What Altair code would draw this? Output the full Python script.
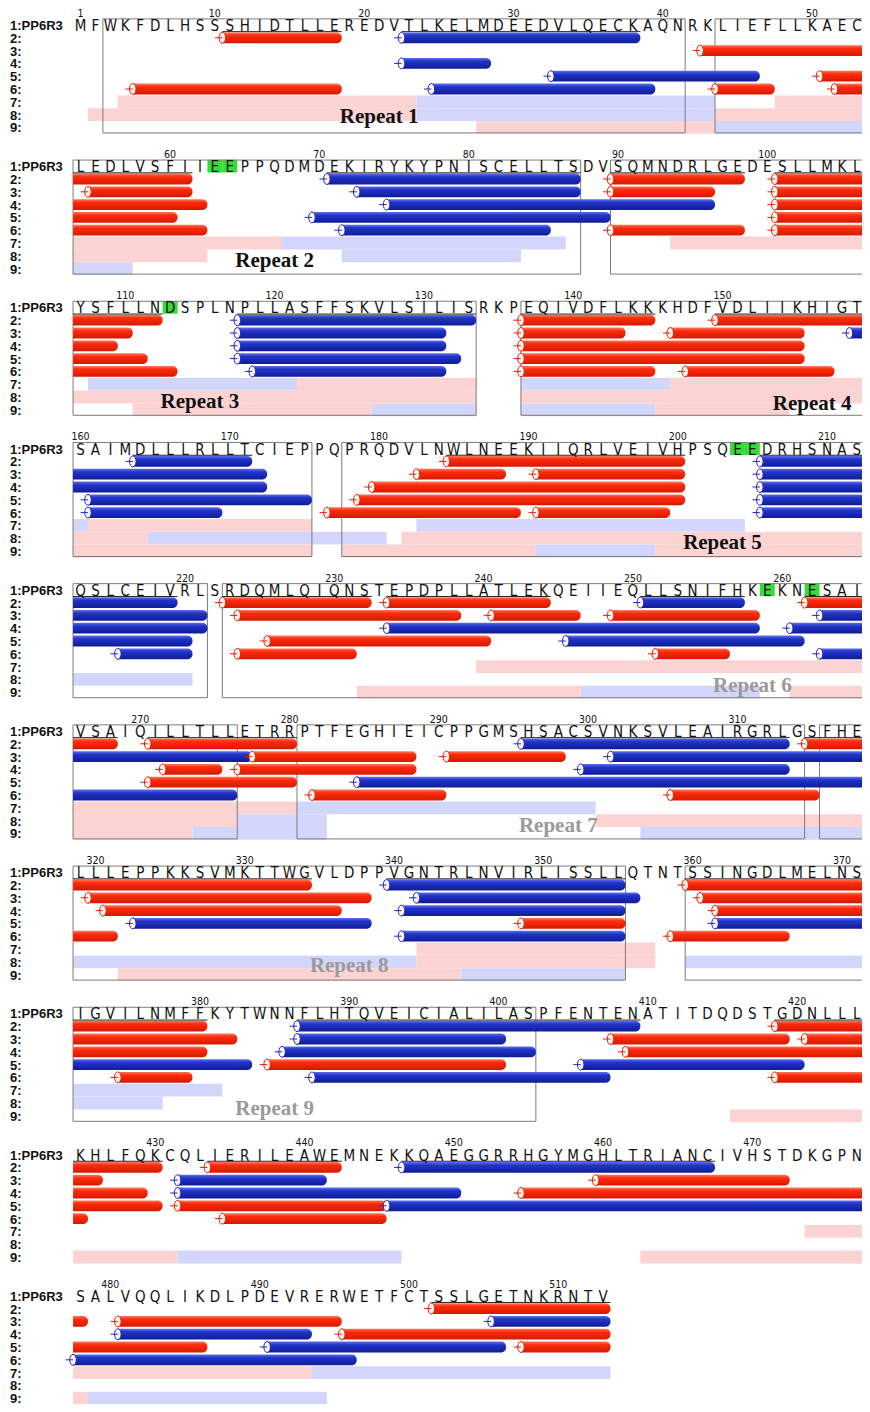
import altair as alt
import pandas as pd

# ---------------- data ----------------
SEQUENCE = (
    "MFWKFDLHSSSHIDTLLEREDVTLKELMDEEDVLQECKAQNRKLIEFLLKAEC"
    "LEDLVSFIIEEPPQDMDEKIRYKYPNISCELLTSDVSQMNDRLGEDESLLMKL"
    "YSFLLNDSPLNPLLASFFSKVLSILISRKPEQIVDFLKKKHDFVDLIIKHIGT"
    "SAIMDLLLRLLTCIEPPQPRQDVLNWLNEEKIIQRLVEIVHPSQEEDRHSNAS"
    "QSLCEIVRLSRDQMLQIQNSTEPDPLLATLEKQEIIEQLLSNIFHKEKNESAI"
    "VSAIQILLTLLETRRPTFEGHIEICPPGMSHSACSVNKSVLEAIRGRLGSFHE"
    "LLLEPPKKSVMKTTWGVLDPPVGNTRLNVIRLISSLLQTNTSSINGDLMELNS"
    "IGVILNMFFKYTWNNFLHTQVEICIALILASPFENTENATITDQDSTGDNLLL"
    "KHLFQKCQLIERILEAWEMNEKKQAEGGRRHGYMGHLTRIANCIVHSTDKGPN"
    "SALVQQLIKDLPDEVRERWETFCTSSLGETNKRNTV"
)
TRACK_LABELS = ["1:PP6R3", "2:", "3:", "4:", "5:", "6:", "7:", "8:", "9:"]
HIGHLIGHT = [63, 64, 113, 204, 205, 259, 262]

REPEAT_NAMES = ["Repeat 1", "Repeat 2", "Repeat 3", "Repeat 4", "Repeat 5",
                "Repeat 6", "Repeat 7", "Repeat 8", "Repeat 9"]
REPEAT_START = [3, 44, 90, 137, 178, 223, 281, 316, 360]
REPEAT_END = [41, 87, 133, 175, 221, 276, 314, 355, 402]
REPEAT_LABEL_RES = [21, 67, 115, 156, 203, 258, 298, 337, 385]
REPEAT_LABEL_TRACK = [8.15, 8.4, 8.4, 8.55, 8.4, 8.5, 8.4, 8.35, 8.5]
REPEAT_TONE = ["dark", "dark", "dark", "dark", "dark", "grey", "grey", "grey", "grey"]

# helices: (track, first residue, last residue, R/B, has start cap)
HELIX_B1 = [(2, 11, 18, "R", 1), (2, 23, 38, "B", 1), (3, 43, 53, "R", 1), (4, 23, 28, "B", 1),
            (5, 33, 46, "B", 1), (5, 51, 53, "R", 1), (6, 5, 18, "R", 1), (6, 25, 39, "B", 1),
            (6, 44, 47, "R", 1), (6, 52, 53, "R", 1)]
HELIX_B2 = [(2, 54, 61, "R", 0), (2, 71, 87, "B", 1), (2, 90, 98, "R", 1), (2, 101, 106, "R", 1),
            (3, 55, 61, "R", 1), (3, 73, 87, "B", 1), (3, 90, 96, "R", 1), (3, 101, 106, "R", 1),
            (4, 54, 62, "R", 0), (4, 75, 96, "B", 1), (4, 101, 106, "R", 1),
            (5, 54, 60, "R", 0), (5, 70, 89, "B", 1), (5, 101, 106, "R", 1),
            (6, 54, 62, "R", 0), (6, 72, 85, "B", 1), (6, 90, 98, "R", 1), (6, 101, 106, "R", 1)]
HELIX_B3 = [(2, 107, 112, "R", 0), (2, 118, 133, "B", 1), (2, 137, 145, "R", 1), (2, 150, 159, "R", 1),
            (3, 107, 110, "R", 0), (3, 118, 131, "B", 1), (3, 137, 143, "R", 1), (3, 147, 155, "R", 1),
            (3, 159, 159, "B", 1),
            (4, 107, 109, "R", 0), (4, 118, 131, "B", 1), (4, 137, 155, "R", 1),
            (5, 107, 111, "R", 0), (5, 118, 132, "B", 1), (5, 137, 155, "R", 1),
            (6, 107, 113, "R", 0), (6, 119, 131, "B", 1), (6, 137, 145, "R", 1), (6, 148, 157, "R", 1)]
HELIX_B4 = [(2, 164, 171, "B", 1), (2, 185, 200, "R", 1), (2, 206, 212, "B", 1),
            (3, 160, 172, "B", 0), (3, 183, 188, "R", 1), (3, 191, 200, "R", 1), (3, 206, 212, "B", 1),
            (4, 160, 172, "B", 0), (4, 180, 200, "R", 1), (4, 206, 212, "B", 1),
            (5, 161, 175, "B", 1), (5, 179, 200, "R", 1), (5, 206, 212, "B", 1),
            (6, 161, 169, "B", 1), (6, 177, 189, "R", 1), (6, 191, 199, "R", 1), (6, 206, 212, "B", 1)]
HELIX_B5 = [(2, 213, 219, "B", 0), (2, 223, 232, "R", 1), (2, 234, 244, "R", 1), (2, 251, 257, "B", 1),
            (2, 262, 265, "R", 1),
            (3, 213, 221, "B", 0), (3, 224, 238, "R", 1), (3, 241, 246, "R", 1), (3, 249, 258, "R", 1),
            (3, 263, 265, "B", 1),
            (4, 213, 221, "B", 0), (4, 234, 258, "B", 1), (4, 261, 265, "B", 1),
            (5, 213, 220, "B", 0), (5, 226, 240, "R", 1), (5, 246, 261, "B", 1),
            (6, 216, 220, "B", 1), (6, 224, 231, "R", 1), (6, 252, 256, "R", 1), (6, 263, 265, "B", 1)]
HELIX_B6 = [(2, 266, 268, "R", 0), (2, 271, 280, "R", 1), (2, 296, 313, "B", 1), (2, 315, 318, "R", 1),
            (3, 266, 277, "B", 0), (3, 278, 288, "R", 1), (3, 291, 298, "R", 1), (3, 302, 318, "B", 1),
            (4, 272, 275, "R", 1), (4, 277, 288, "R", 1), (4, 300, 313, "B", 1),
            (5, 271, 280, "R", 1), (5, 285, 318, "B", 1),
            (6, 266, 276, "B", 0), (6, 282, 290, "R", 1), (6, 306, 315, "R", 1)]
HELIX_B7 = [(2, 319, 334, "R", 0), (2, 340, 355, "B", 1), (2, 360, 371, "R", 1),
            (3, 320, 338, "R", 1), (3, 342, 356, "B", 1), (3, 361, 371, "R", 1),
            (4, 321, 336, "R", 1), (4, 341, 355, "B", 1), (4, 362, 371, "R", 1),
            (5, 323, 338, "B", 1), (5, 349, 355, "R", 1), (5, 362, 371, "B", 1),
            (6, 319, 321, "R", 0), (6, 341, 355, "B", 1), (6, 359, 366, "R", 1)]
HELIX_B8 = [(2, 372, 380, "R", 0), (2, 387, 409, "B", 1), (2, 419, 424, "R", 1),
            (3, 372, 382, "R", 0), (3, 387, 400, "B", 1), (3, 408, 419, "R", 1), (3, 421, 424, "R", 1),
            (4, 372, 380, "R", 0), (4, 386, 402, "B", 1), (4, 409, 424, "R", 1),
            (5, 372, 383, "B", 0), (5, 385, 400, "R", 1), (5, 406, 420, "B", 1),
            (6, 375, 379, "R", 1), (6, 388, 407, "B", 1), (6, 419, 424, "R", 1)]
HELIX_B9 = [(2, 425, 430, "R", 0), (2, 434, 442, "R", 1), (2, 447, 467, "B", 1),
            (3, 425, 426, "R", 0), (3, 432, 441, "B", 1), (3, 460, 472, "R", 1),
            (4, 425, 429, "R", 0), (4, 432, 450, "B", 1), (4, 455, 477, "R", 1),
            (5, 425, 430, "R", 0), (5, 432, 445, "R", 1), (5, 446, 477, "B", 1),
            (6, 425, 425, "R", 0), (6, 435, 445, "R", 1)]
HELIX_B10 = [(2, 502, 513, "R", 1),
             (3, 478, 478, "R", 0), (3, 481, 495, "R", 1), (3, 506, 513, "B", 1),
             (4, 481, 493, "B", 1), (4, 496, 513, "R", 1),
             (5, 478, 486, "R", 0), (5, 491, 506, "B", 1), (5, 508, 513, "R", 1),
             (6, 478, 496, "B", 1)]

# light tracks: (track, first residue, last residue, P=pink / L=lilac)
LIGHT_B1 = [(7, 4, 23, "P"), (7, 24, 43, "L"), (7, 48, 53, "P"), (8, 2, 23, "P"), (8, 24, 43, "L"),
            (8, 44, 53, "P"), (9, 28, 43, "P"), (9, 44, 53, "L")]
LIGHT_B2 = [(7, 54, 67, "P"), (7, 68, 86, "L"), (7, 94, 106, "P"), (8, 54, 62, "P"), (8, 72, 83, "L"),
            (9, 54, 57, "L")]
LIGHT_B3 = [(7, 108, 121, "L"), (7, 122, 133, "P"), (7, 137, 146, "L"), (7, 147, 159, "P"),
            (8, 107, 133, "P"), (8, 137, 159, "P"), (9, 111, 126, "P"), (9, 127, 133, "L"),
            (9, 137, 145, "L"), (9, 146, 154, "P")]
LIGHT_B4 = [(7, 160, 160, "L"), (7, 161, 175, "P"), (7, 183, 204, "L"), (8, 160, 164, "P"),
            (8, 165, 180, "L"), (8, 182, 212, "P"), (9, 160, 175, "P"), (9, 178, 190, "P"),
            (9, 191, 198, "L"), (9, 199, 212, "P")]
LIGHT_B5 = [(7, 240, 265, "P"), (8, 213, 220, "L"), (9, 232, 246, "P"), (9, 247, 258, "L"),
            (9, 261, 265, "P")]
LIGHT_B6 = [(7, 266, 280, "P"), (7, 281, 300, "L"), (8, 266, 276, "P"), (8, 277, 282, "L"),
            (8, 301, 318, "P"), (9, 266, 273, "P"), (9, 274, 282, "L"), (9, 304, 318, "L")]
LIGHT_B7 = [(7, 342, 357, "P"), (8, 319, 341, "L"), (8, 342, 357, "P"), (8, 360, 371, "L"),
            (9, 322, 344, "P"), (9, 345, 355, "L")]
LIGHT_B8 = [(7, 372, 381, "L"), (8, 372, 377, "L"), (9, 416, 424, "P")]
LIGHT_B9 = [(7, 474, 477, "P"), (9, 425, 431, "P"), (9, 432, 446, "L"), (9, 463, 477, "P")]
LIGHT_B10 = [(7, 478, 493, "P"), (7, 494, 513, "L"), (9, 478, 478, "P"), (9, 479, 494, "L")]

HELIX_BLOCKS = [HELIX_B1, HELIX_B2, HELIX_B3, HELIX_B4, HELIX_B5,
                HELIX_B6, HELIX_B7, HELIX_B8, HELIX_B9, HELIX_B10]
LIGHT_BLOCKS = [LIGHT_B1, LIGHT_B2, LIGHT_B3, LIGHT_B4, LIGHT_B5,
                LIGHT_B6, LIGHT_B7, LIGHT_B8, LIGHT_B9, LIGHT_B10]

# ---------------- layout ----------------
NB = 53            # residues per line
W, H = 854, 1396
PX_RES = 14.93     # pixels per residue
PX_TRK = 12.8      # pixels per track
BLK = 141.2 / PX_TRK   # line pitch, in track units
HB = 0.42          # half height of helix bar
XD0 = -(80.5 - 8) / PX_RES
YD0 = 1 - (25 - 8) / PX_TRK
XS = alt.Scale(domain=[XD0, XD0 + W / PX_RES], nice=False, zero=False)
YS = alt.Scale(domain=[YD0, YD0 + H / PX_TRK], nice=False, zero=False, reverse=True)
LABEL_X = XD0 + 2 / PX_RES

SEQ_FONT = "Liberation Sans Narrow, DejaVu Sans Condensed, Liberation Sans, sans-serif"
SANS = "Liberation Sans, Arial, Helvetica, sans-serif"
SERIF = "Liberation Serif, Times New Roman, DejaVu Serif, serif"


def pieces(start, end):
    out, s = [], start
    while s <= end:
        b = (s - 1) // NB
        e = min(end, (b + 1) * NB)
        out.append((b, s, e, s == start, e == end))
        s = e + 1
    return out


def kpos(res, b):
    return res - 1 - b * NB


helix, caps, uline = [], [], []
for blk in HELIX_BLOCKS:
    for (t, s, e, typ, cap) in blk:
        for (b, ps, pe, first, last) in pieces(s, e):
            k0 = kpos(ps, b) - 0.5
            k1 = kpos(pe, b) + 0.5 if pe < (b + 1) * NB else NB + 1
            v = b * BLK + t
            helix.append(dict(x=k0, x2=k1, y=v - HB, y2=v + HB, kind=typ))
            if first and cap:
                caps.append(dict(x=k0, y=v, kind=typ))
            if t == 2:
                uline.append(dict(x=k0, x2=min(k1, NB), y=b * BLK + 1.52))

light = []
for blk in LIGHT_BLOCKS:
    for (t, s, e, tone) in blk:
        for (b, ps, pe, first, last) in pieces(s, e):
            k0 = kpos(ps, b) - 0.5
            k1 = kpos(pe, b) + 0.5 if pe < (b + 1) * NB else NB + 1
            v = b * BLK + t
            light.append(dict(x=k0, x2=k1, y=v - 0.5, y2=v + 0.5, tone=tone))

boxes = []
for s, e in zip(REPEAT_START, REPEAT_END):
    for (b, ps, pe, first, last) in pieces(s, e):
        k0 = kpos(ps, b) - 0.5
        k1 = kpos(pe, b) + 0.5 if last else NB + 1
        boxes.append(dict(x=k0, x2=k1, y=b * BLK + 0.52, y2=b * BLK + 9.43))

letters = []
for i, ch in enumerate(SEQUENCE):
    b = i // NB
    letters.append(dict(x=i % NB, y=b * BLK + 1, t=ch))

numbers = []
for res in [1] + list(range(10, len(SEQUENCE) + 1, 10)):
    b = (res - 1) // NB
    numbers.append(dict(x=kpos(res, b), y=b * BLK + 0.12, t=str(res)))

greens = []
for res in HIGHLIGHT:
    b = (res - 1) // NB
    k = kpos(res, b)
    greens.append(dict(x=k - 0.5, x2=k + 0.5, y=b * BLK + 0.5, y2=b * BLK + 1.5))

rowlab = []
nblocks = (len(SEQUENCE) - 1) // NB + 1
for b in range(nblocks):
    for t, lab in enumerate(TRACK_LABELS, start=1):
        rowlab.append(dict(x=LABEL_X, y=b * BLK + t, t=lab))

replab = []
for name, res, trk, tone in zip(REPEAT_NAMES, REPEAT_LABEL_RES, REPEAT_LABEL_TRACK, REPEAT_TONE):
    b = (res - 1) // NB
    replab.append(dict(x=kpos(res, b), y=b * BLK + trk, t=name, tone=tone))

# ---------------- chart ----------------
X = alt.X("x:Q", scale=XS, axis=None)
Y = alt.Y("y:Q", scale=YS, axis=None)
X2 = alt.X2("x2:Q")
Y2 = alt.Y2("y2:Q")

RED_FILL = {"gradient": "linear", "x1": 0, "y1": 0, "x2": 0, "y2": 1,
            "stops": [{"offset": 0, "color": "#ff7a5c"}, {"offset": 0.3, "color": "#ff2a0c"},
                      {"offset": 1, "color": "#d41a00"}]}
BLUE_FILL = {"gradient": "linear", "x1": 0, "y1": 0, "x2": 0, "y2": 1,
             "stops": [{"offset": 0, "color": "#5f6ff0"}, {"offset": 0.3, "color": "#2034c8"},
                       {"offset": 1, "color": "#101c96"}]}
CAP_PATH = ("M -1.35 0 L 0 0 M 0 -1 A 0.6 1 0 1 1 0 1 A 0.6 1 0 1 1 0 -1 Z")

df_light = pd.DataFrame(light)
df_helix = pd.DataFrame(helix)
df_caps = pd.DataFrame(caps)

l_light = alt.Chart(df_light).mark_rect(clip=True).encode(
    x=X, x2=X2, y=Y, y2=Y2,
    color=alt.Color("tone:N", scale=alt.Scale(domain=["P", "L"], range=["#fbd3d3", "#d3d6fb"]),
                    legend=None))
l_green = alt.Chart(pd.DataFrame(greens)).mark_rect(color="#38dc38").encode(x=X, x2=X2, y=Y, y2=Y2)
l_box = alt.Chart(pd.DataFrame(boxes)).mark_rect(
    clip=True, fillOpacity=0, stroke="#7c7c7c", strokeWidth=1).encode(x=X, x2=X2, y=Y, y2=Y2)
l_red = alt.Chart(df_helix[df_helix.kind == "R"]).mark_rect(
    clip=True, fill=RED_FILL, cornerRadiusTopRight=5, cornerRadiusBottomRight=5).encode(
    x=X, x2=X2, y=Y, y2=Y2)
l_blue = alt.Chart(df_helix[df_helix.kind == "B"]).mark_rect(
    clip=True, fill=BLUE_FILL, cornerRadiusTopRight=5, cornerRadiusBottomRight=5).encode(
    x=X, x2=X2, y=Y, y2=Y2)
l_caps = alt.Chart(df_caps).mark_point(
    shape=CAP_PATH, size=120, filled=True, fill="#fff4f2", fillOpacity=1, opacity=1,
    strokeWidth=1, clip=True).encode(
    x=X, y=Y,
    stroke=alt.Stroke("kind:N", scale=alt.Scale(domain=["R", "B"], range=["#e62000", "#1a2cc0"]),
                      legend=None))
l_uline = alt.Chart(pd.DataFrame(uline)).mark_rule(color="#222", strokeWidth=1, clip=True).encode(
    x=X, x2=X2, y=Y)
l_letters = alt.Chart(pd.DataFrame(letters)).mark_text(
    font=SEQ_FONT, fontSize=15, color="#111", baseline="middle", dy=1).encode(x=X, y=Y, text="t:N")
l_numbers = alt.Chart(pd.DataFrame(numbers)).mark_text(
    font=SEQ_FONT, fontSize=10.5, color="#111", baseline="middle").encode(x=X, y=Y, text="t:N")
l_rowlab = alt.Chart(pd.DataFrame(rowlab)).mark_text(
    font=SANS, fontSize=13, fontWeight="bold", color="#111", align="left", baseline="middle",
    dy=1).encode(x=X, y=Y, text="t:N")
l_replab = alt.Chart(pd.DataFrame(replab)).mark_text(
    font=SERIF, fontSize=21, fontWeight="bold", baseline="middle").encode(
    x=X, y=Y, text="t:N",
    color=alt.Color("tone:N", scale=alt.Scale(domain=["dark", "grey"], range=["#111111", "#9a9a9a"]),
                    legend=None))

chart = alt.layer(
    l_light, l_green, l_box, l_red, l_blue, l_caps, l_uline,
    l_letters, l_numbers, l_rowlab, l_replab
).resolve_scale(color="independent", stroke="independent").properties(
    width=W, height=H, padding=0,
    autosize=alt.AutoSizeParams(type="none"),
).configure_view(stroke=None)

chart.save("out.html", embed_options={"renderer": "svg", "actions": False})
